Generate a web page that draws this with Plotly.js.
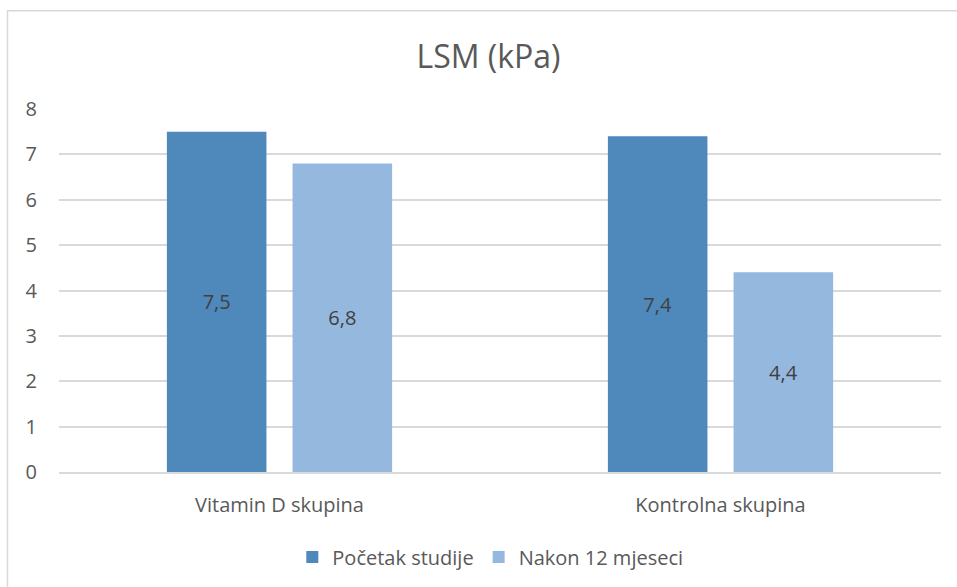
<!DOCTYPE html>
<html>
<head>
<meta charset="utf-8">
<script src="https://cdn.plot.ly/plotly-3.0.1.min.js"></script>
<style>
html,body{margin:0;padding:0;background:#fff;}
#chart{width:957px;height:587px;}
</style>
</head>
<body>
<div id="chart"></div>
<script>
const categories = ["Vitamin D skupina", "Kontrolna skupina"];
const seriesNames = ["Početak studije", "Nakon 12 mjeseci"];
const pocetak = [7.5, 7.4];
const nakon = [6.8, 4.4];
const yTicks = [0, 1, 2, 3, 4, 5, 6, 7, 8];

const FONT = "'Open Sans', sans-serif";
const colors = ["#4F88BB", "#95B8DF"];

function barTrace(name, vals, color) {
  return {
    type: "bar",
    name: name,
    x: categories,
    y: vals,
    marker: {color: color, line: {width: 0}},
    texttemplate: "%{y:.1f}",
    textposition: "inside",
    insidetextanchor: "middle",
    textangle: 0,
    constraintext: "none",
    textfont: {family: FONT, size: 20, color: "#404040"},
    insidetextfont: {family: FONT, size: 20, color: "#404040"},
    hoverinfo: "skip"
  };
}

const data = [
  barTrace(seriesNames[0], pocetak, colors[0]),
  barTrace(seriesNames[1], nakon, colors[1])
];

const L = 59, R = 941, T = 109, B = 473, W = 957, H = 587;
const pw = R - L, ph = B - T;
function px(x){ return (x - L) / pw; }
function py(y){ return (B - y) / ph; }

const layout = {
  width: W, height: H,
  margin: {l: L, r: W - R, t: T, b: H - B, pad: 0},
  paper_bgcolor: "#ffffff",
  plot_bgcolor: "#ffffff",
  separators: ",.",
  font: {family: FONT, color: "#595959"},
  title: {
    text: "LSM (kPa)",
    font: {family: FONT, size: 32, color: "#595959"},
    x: 488.5 / W, xanchor: "center",
    y: 1 - 57 / H, yanchor: "middle"
  },
  barmode: "group",
  bargap: 0.43,
  bargroupgap: 0.208,
  xaxis: {
    type: "category",
    showgrid: false,
    showline: true,
    linecolor: "#D9D9D9",
    linewidth: 2,
    ticks: "",
    tickfont: {family: FONT, size: 20, color: "#595959"},
    ticklabelstandoff: 14,
    fixedrange: true
  },
  yaxis: {
    range: [0, 8],
    tickvals: yTicks,
    ticktext: yTicks.map(String),
    showgrid: true,
    gridcolor: "#D9D9D9",
    gridwidth: 2,
    zeroline: false,
    showline: false,
    ticks: "",
    tickfont: {family: FONT, size: 20, color: "#595959"},
    ticklabelstandoff: 21,
    fixedrange: true
  },
  showlegend: true,
  legend: {
    orientation: "h",
    x: 468 / W, xref: "paper", xanchor: "center",
    y: py(557), yanchor: "middle",
    font: {family: FONT, size: 20, color: "#595959"},
    itemwidth: 30,
    traceorder: "normal",
    bgcolor: "rgba(0,0,0,0)"
  },
  shapes: [{
    type: "rect",
    xref: "paper", yref: "paper",
    x0: px(7.5), x1: px(965),
    y0: py(600), y1: py(10.5),
    line: {color: "#D9D9D9", width: 1.5},
    fillcolor: "rgba(0,0,0,0)",
    layer: "below"
  }]
};

Plotly.newPlot("chart", data, layout, {displayModeBar: false, staticPlot: true});
</script>
</body>
</html>
